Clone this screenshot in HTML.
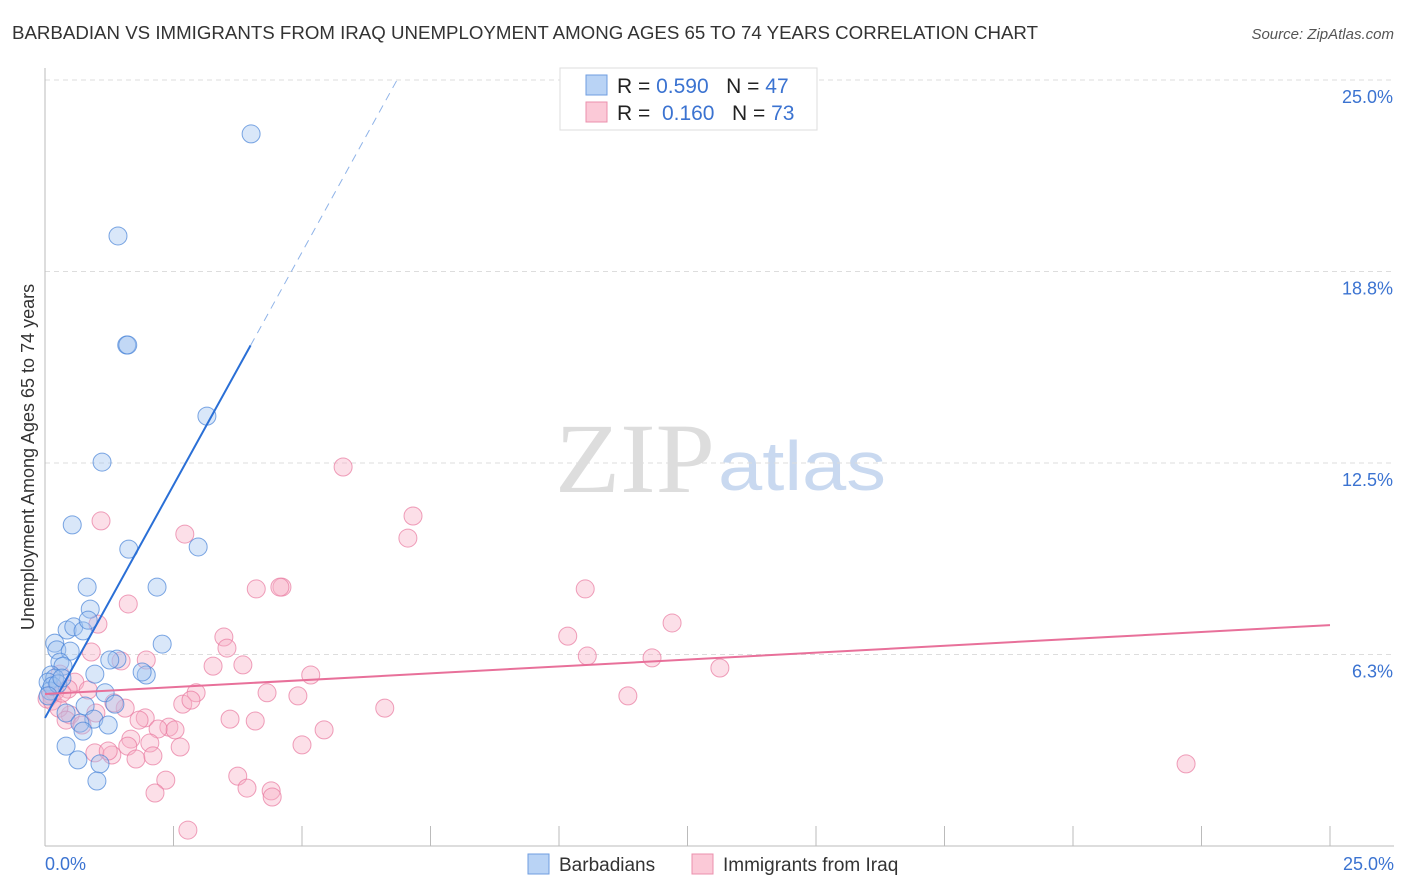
<!DOCTYPE html>
<html><head><meta charset="utf-8"><style>
body{margin:0;background:#fff;font-family:"Liberation Sans",sans-serif;}
svg{display:block}
</style></head><body>
<svg id="chart" width="1406" height="892" xmlns="http://www.w3.org/2000/svg">
<text x="12" y="39" font-size="18" fill="#333" textLength="1026" lengthAdjust="spacingAndGlyphs">BARBADIAN VS IMMIGRANTS FROM IRAQ UNEMPLOYMENT AMONG AGES 65 TO 74 YEARS CORRELATION CHART</text>
<text x="1394" y="39" font-size="15" fill="#555" font-style="italic" text-anchor="end">Source: ZipAtlas.com</text>
<text x="555" y="492" font-size="100" fill="#ddd" font-family="Liberation Serif,serif" textLength="160" lengthAdjust="spacingAndGlyphs">ZIP</text>
<text x="718" y="490" font-size="70" fill="#c9d9f0" textLength="168" lengthAdjust="spacingAndGlyphs">atlas</text>
<g id="grid"></g>
<g id="axes"></g>
<g id="pts"></g>
<g id="lines"></g>
<text transform="translate(34,457) rotate(-90)" font-size="18" fill="#333" text-anchor="middle">Unemployment Among Ages 65 to 74 years</text>
<g>
<rect x="560" y="68" width="257" height="62" fill="#fff" stroke="#ddd"/>
<rect x="586" y="75" width="21" height="20" fill="#b9d3f5" stroke="#6f9ee0"/>
<rect x="586" y="102" width="21" height="20" fill="#fbc9d7" stroke="#eb90ac"/>
<text x="617" y="93" font-size="21" fill="#222">R = <tspan fill="#3b73d1">0.590</tspan>&#160;&#160;&#160;N = <tspan fill="#3b73d1">47</tspan></text>
<text x="617" y="120" font-size="21" fill="#222">R = &#160;<tspan fill="#3b73d1">0.160</tspan>&#160;&#160;&#160;N = <tspan fill="#3b73d1">73</tspan></text>
</g>
<g>
<rect x="528" y="854" width="21" height="20" fill="#b9d3f5" stroke="#6f9ee0"/>
<text x="559" y="871" font-size="19" fill="#333">Barbadians</text>
<rect x="692" y="854" width="21" height="20" fill="#fbc9d7" stroke="#eb90ac"/>
<text x="723" y="871" font-size="19" fill="#333">Immigrants from Iraq</text>
</g>
</svg>
<script>
const blueX=[4.01,1.42,1.59,1.61,3.15,1.11,0.53,1.63,2.98,0.82,2.18,0.88,0.43,0.56,0.74,0.84,2.28,0.19,0.23,0.49,0.29,0.35,1.40,1.26,0.12,0.19,1.97,1.89,0.97,0.06,0.10,1.17,1.36,0.78,0.41,0.95,0.68,0.74,1.23,0.41,0.64,1.07,1.01,0.14,0.25,0.33,0.06];
const blueY=[23.24,19.91,16.35,16.35,14.03,12.53,10.48,9.69,9.76,8.45,8.45,7.73,7.05,7.15,7.02,7.37,6.59,6.62,6.40,6.36,6.00,5.87,6.10,6.07,5.58,5.48,5.58,5.68,5.61,5.35,5.06,5.00,4.63,4.57,4.34,4.14,4.01,3.75,3.95,3.26,2.81,2.68,2.12,5.22,5.29,5.48,4.90];
const pinkX=[5.80,7.16,7.06,1.09,2.72,4.61,4.57,4.11,10.51,1.62,1.03,12.20,10.17,3.48,3.54,10.55,11.81,0.90,1.97,3.27,3.85,5.17,13.13,1.48,0.58,0.29,0.45,0.12,0.04,0.19,0.14,0.84,2.94,4.32,4.92,11.34,2.68,2.84,1.56,1.34,6.61,0.99,0.49,0.27,0.41,1.95,1.83,3.60,4.09,0.72,2.41,2.53,2.20,5.43,1.67,1.61,2.04,2.63,5.00,0.97,1.30,1.23,1.77,2.10,22.20,3.75,2.35,3.93,2.14,4.40,4.42,2.78,0.33];
const pinkY=[12.37,10.77,10.05,10.61,10.18,8.45,8.45,8.39,8.39,7.90,7.24,7.28,6.85,6.82,6.46,6.20,6.14,6.33,6.07,5.87,5.91,5.58,5.81,6.04,5.35,5.61,5.12,4.93,4.80,5.03,4.73,5.09,5.00,5.00,4.90,4.90,4.63,4.76,4.50,4.67,4.50,4.34,4.28,4.50,4.11,4.18,4.11,4.14,4.08,3.95,3.88,3.79,3.82,3.79,3.49,3.26,3.36,3.23,3.30,3.04,2.97,3.10,2.84,2.94,2.68,2.28,2.15,1.89,1.73,1.80,1.60,0.52,4.99];
const yTicks=[25.0,18.8,12.5,6.3];
const yTickVals=[25,18.75,12.5,6.25];
const xTickVals=[0,2.5,5,7.5,10,12.5,15,17.5,20,22.5,25];
const blueLine=[4.18,3.04];
const pinkLine=[4.96,0.09];
const X=v=>45+v/25*1285, Y=v=>846-v/25*766;
const ns="http://www.w3.org/2000/svg";
function mk(tag,attrs,parent){const e=document.createElementNS(ns,tag);for(const k in attrs)e.setAttribute(k,attrs[k]);document.getElementById(parent).appendChild(e);return e;}
yTickVals.forEach((v,i)=>{
 const g=mk('line',{x1:45,x2:1394,y1:Y(v),y2:Y(v),stroke:'#ddd','stroke-dasharray':'5,4'},'grid');
 
 
 const t=mk('text',{x:1393,y:Y(v)+23,'font-size':18,fill:'#3b73d1','text-anchor':'end'},'axes');
 t.textContent=yTicks[i].toFixed(1)+'%';
 
 
});
const ax=mk('line',{x1:45,x2:45,y1:68,y2:846,stroke:'#bbb'},'axes');


const bx=mk('line',{x1:45,x2:1394,y1:846,y2:846,stroke:'#bbb'},'axes');


xTickVals.forEach(v=>{
 const t=mk('line',{x1:X(v),x2:X(v),y1:826,y2:846,stroke:'#bbb'},'axes');
 
 
});
[[0,'0.0%','start',45],[25,'25.0%','end',1394]].forEach(a=>{
 const t=mk('text',{x:a[3],y:870,'font-size':18,fill:'#3b73d1','text-anchor':a[2]},'axes');
 t.textContent=a[1];
 
 
});
pinkX.forEach((v,i)=>{
 const c=mk('circle',{cx:X(v),cy:Y(pinkY[i]),r:9,fill:'rgba(248,175,198,0.4)',stroke:'rgba(232,120,158,0.7)','stroke-width':1},'pts');
 
 
});
blueX.forEach((v,i)=>{
 const c=mk('circle',{cx:X(v),cy:Y(blueY[i]),r:9,fill:'rgba(160,195,240,0.4)',stroke:'rgba(70,130,215,0.7)','stroke-width':1},'pts');
 
 
});
const bx1=4.0,bx2=(25-blueLine[0])/blueLine[1];
const l1=mk('line',{x1:X(0),y1:Y(blueLine[0]),x2:X(bx1),y2:Y(blueLine[0]+blueLine[1]*bx1),stroke:'#2a6fd6','stroke-width':2},'lines');


const l2=mk('line',{x1:X(bx1),y1:Y(blueLine[0]+blueLine[1]*bx1),x2:X(bx2),y2:Y(25),stroke:'#8fb3e8','stroke-width':1,'stroke-dasharray':'8,6'},'lines');


const l3=mk('line',{x1:X(0),y1:Y(pinkLine[0]),x2:X(25),y2:Y(pinkLine[0]+pinkLine[1]*25),stroke:'#e8709a','stroke-width':2},'lines');


</script>
</body></html>
